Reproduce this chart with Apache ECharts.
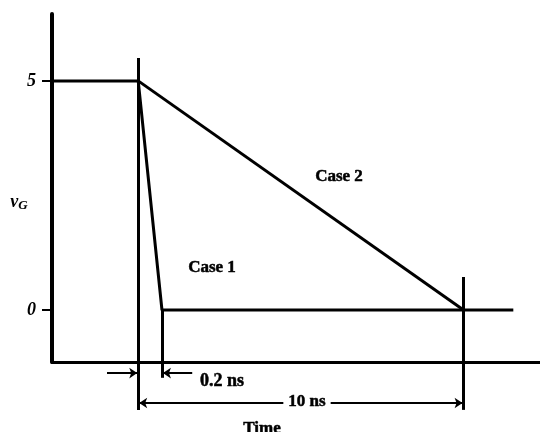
<!DOCTYPE html>
<html>
<head>
<meta charset="utf-8">
<script src="https://cdn.jsdelivr.net/npm/echarts@6/dist/echarts.min.js"></script>
<style>html,body{margin:0;padding:0;background:#fff}#c{width:540px;height:432px}</style>
</head>
<body>
<div id="c"></div>
<script>
// Schematic time axis (drawing units, not to scale for the 0.2 ns edge)
const inputT = [0, 2.65];
const inputV = [5, 5];
const case1T = [2.65, 3.38, 14.18];
const case1V = [5, 0, 0];
const case2T = [2.65, 12.65];
const case2V = [5, 0];
const yTickValues = [0, 5];
const yTickLabels = ['0', '5'];
const caseNames = ['Case 1', 'Case 2'];
const dimLabels = ['0.2 ns', '10 ns'];

const tStart = case1T[0];
const tEnd1 = case1T[1];
const tEnd2 = case2T[1];

const zip = (a, b) => a.map((v, i) => [v, b[i]]);
const font = "'Liberation Serif', 'Times New Roman', Times, serif";
const lineStyle = { color: '#000', width: 3 };

const chart = echarts.init(document.getElementById('c'), null, { renderer: 'canvas' });

const extLines = [
  { coords: [[tStart, 5.5], [tStart, -2.18]] },
  { coords: [[tEnd1, 0], [tEnd1, -1.48]] },
  { coords: [[tEnd2, 0.72], [tEnd2, -2.18]] }
];
const arrows = [
  { coords: [[1.69, -1.376], [tStart - 0.03, -1.376]] },
  { coords: [[4.31, -1.376], [tEnd1 + 0.03, -1.376]] }
];
const dblArrow = [{ coords: [[tStart + 0.03, -2.03], [tEnd2 - 0.03, -2.03]] }];

const txt = (x, y, text, size, extra) => ({
  type: 'text', x, y, z: 100,
  style: Object.assign({ text, align: 'center', verticalAlign: 'middle',
    fontFamily: font, fontSize: size, fontWeight: 'bold',
    fill: '#000', stroke: '#000', lineWidth: 0.5 }, extra || {})
});

chart.setOption({
  animation: false,
  backgroundColor: '#fff',
  grid: { left: 52, right: 0, top: 14, bottom: 70 },
  xAxis: {
    type: 'value', min: 0, max: 15,
    axisLine: { show: true, onZero: false, lineStyle: { color: '#000', width: 3 } },
    axisTick: { show: false }, axisLabel: { show: false }, splitLine: { show: false }
  },
  yAxis: {
    type: 'value', min: -1.135, max: 6.46,
    axisLine: { show: true, onZero: false, lineStyle: { color: '#000', width: 4 } },
    axisTick: { show: true, customValues: yTickValues, length: 10, lineStyle: { color: '#000', width: 2 } },
    axisLabel: {
      show: true, customValues: yTickValues, margin: 16,
      formatter: v => yTickLabels[yTickValues.indexOf(Math.round(v))] || '',
      fontFamily: font, fontSize: 18, fontWeight: 'bold', fontStyle: 'italic', color: '#000'
    },
    splitLine: { show: false }
  },
  series: [
    { type: 'line', data: zip(inputT, inputV), showSymbol: false, clip: false, lineStyle },
    { type: 'line', data: zip(case1T, case1V), showSymbol: false, clip: false, lineStyle },
    { type: 'line', data: zip(case2T, case2V), showSymbol: false, clip: false, lineStyle },
    { type: 'lines', coordinateSystem: 'cartesian2d', clip: false, symbol: 'none',
      lineStyle: { color: '#000', width: 3, opacity: 1 }, data: extLines },
    { type: 'lines', coordinateSystem: 'cartesian2d', clip: false, symbol: ['none', 'arrow'], symbolSize: 8,
      lineStyle: { color: '#000', width: 2, opacity: 1 }, data: arrows },
    { type: 'lines', coordinateSystem: 'cartesian2d', clip: false, symbol: ['arrow', 'arrow'], symbolSize: 8,
      lineStyle: { color: '#000', width: 2, opacity: 1 }, data: dblArrow }
  ],
  graphic: [
    { type: 'text', x: 19, y: 202, style: {
        text: '{v|v}{g|G}', align: 'center', verticalAlign: 'middle',
        rich: {
          v: { fontFamily: font, fontSize: 18, fontStyle: 'italic', fontWeight: 'bold', fill: '#000' },
          g: { fontFamily: font, fontSize: 13, fontStyle: 'italic', fontWeight: 'bold', fill: '#000', verticalAlign: 'bottom', padding: [8, 0, 0, 0] }
        }
      } },
    txt(212, 268, caseNames[0], 17),
    txt(339, 177, caseNames[1], 17),
    txt(222, 381, dimLabels[0], 18),
    txt(307, 402, dimLabels[1], 17, { backgroundColor: '#fff', padding: [0, 5, 0, 5] }),
    txt(262, 429, 'Time', 17)
  ]
});
</script>
</body>
</html>
